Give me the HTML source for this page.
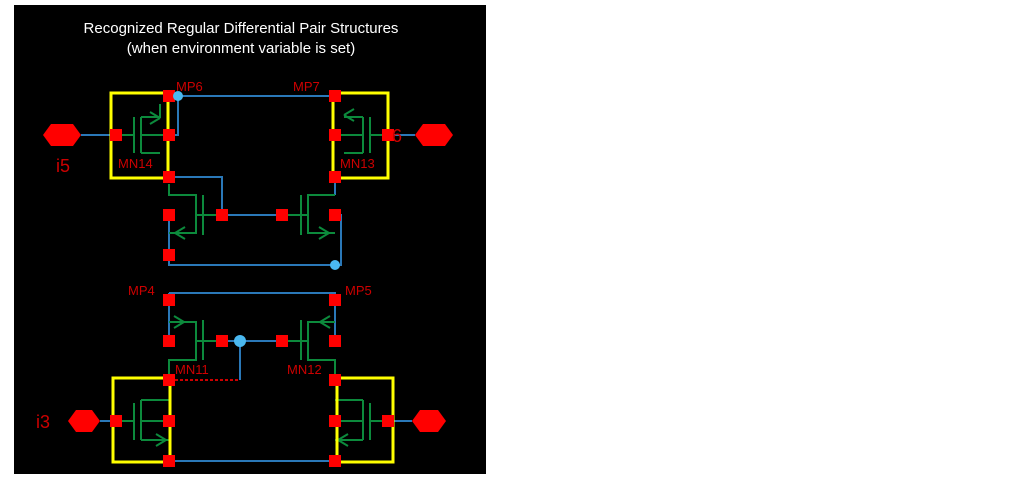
<!DOCTYPE html>
<html><head><style>
body{margin:0;background:#fff;width:1013px;height:479px;overflow:hidden}
svg{position:absolute;left:0;top:0}
text{font-family:"Liberation Sans",sans-serif}
</style></head><body>
<svg width="1013" height="479" viewBox="0 0 1013 479">
<rect x="14" y="5" width="472" height="469" fill="#000"/>
<text x="241" y="33" fill="#fff" font-size="15" text-anchor="middle">Recognized Regular Differential Pair Structures</text>
<text x="241" y="53" fill="#fff" font-size="15" text-anchor="middle">(when environment variable is set)</text>
<g stroke="#2a78b8" stroke-width="2" fill="none">
<path d="M81 135H111M178 96H335M178 96V135H169M169 177H222V215M169 215V265H341V215H335M222 215H282M335 177V195"/>
<path d="M389 135H415"/>
<path d="M169 293H335V341M169 293V341M222 341H282M240 341V380"/>
<path d="M100 421H116M388 421H412M169 461H335"/>
</g>
<path d="M175 380H240" stroke="#c00" stroke-width="2" stroke-dasharray="3,2"/>
<g stroke="#0c8a3c" stroke-width="2" fill="none">
<path d="M116 135H134M134 117V153M141 117V153M141 135H169M141 117H160V104M141 153H160M160 118l-10 -6M160 118l-10 6"/>
<path d="M388 135H370M370 117V153M363 117V153M363 135H335M363 117H344M363 153H344M344 115l10 -6M344 115l10 6"/>
<path d="M169 184V195H196V233H169M203 195V235M196 215H222M175 233l10-6M175 233l10 6"/>
<path d="M335 195H308V233H335M301 195V235M308 215H282M329 233l-10-6M329 233l-10 6"/>
<path d="M169 322H196V360H169V375M203 320V360M196 341H222M184 322l-10-6M184 322l-10 6"/>
<path d="M335 322H308V360H335V375M301 320V360M308 341H282M320 322l10-6M320 322l10 6"/>
<path d="M116 421H134M134 403V440M141 400V440M141 421H169M141 400H169M141 440H169M166 440l-10-6M166 440l-10 6"/>
<path d="M388 421H370M370 403V440M363 400V440M363 421H335M363 400H335M363 440H335M338 440l10-6M338 440l10 6"/>
</g>
<g fill="none" stroke="#ff0" stroke-width="3">
<rect x="111" y="93" width="57" height="85"/>
<rect x="333" y="93" width="55" height="85"/>
<rect x="113" y="378" width="57" height="84"/>
<rect x="337" y="378" width="56" height="84"/>
</g>
<g fill="#f00">
<polygon points="43,135 51,124 73,124 81,135 73,146 51,146"/>
<polygon points="415,135 423,124 445,124 453,135 445,146 423,146"/>
<polygon points="68,421 76,410 92,410 100,421 92,432 76,432"/>
<polygon points="412,421 420,410 438,410 446,421 438,432 420,432"/>
</g>
<g fill="#f00">
<rect x="163" y="90" width="12" height="12"/><rect x="329" y="90" width="12" height="12"/>
<rect x="110" y="129" width="12" height="12"/><rect x="163" y="129" width="12" height="12"/>
<rect x="329" y="129" width="12" height="12"/><rect x="382" y="129" width="12" height="12"/>
<rect x="163" y="171" width="12" height="12"/><rect x="329" y="171" width="12" height="12"/>
<rect x="163" y="209" width="12" height="12"/><rect x="216" y="209" width="12" height="12"/>
<rect x="276" y="209" width="12" height="12"/><rect x="329" y="209" width="12" height="12"/>
<rect x="163" y="249" width="12" height="12"/>
<rect x="163" y="294" width="12" height="12"/><rect x="329" y="294" width="12" height="12"/>
<rect x="163" y="335" width="12" height="12"/><rect x="216" y="335" width="12" height="12"/>
<rect x="276" y="335" width="12" height="12"/><rect x="329" y="335" width="12" height="12"/>
<rect x="163" y="374" width="12" height="12"/><rect x="329" y="374" width="12" height="12"/>
<rect x="110" y="415" width="12" height="12"/><rect x="163" y="415" width="12" height="12"/>
<rect x="329" y="415" width="12" height="12"/><rect x="382" y="415" width="12" height="12"/>
<rect x="163" y="455" width="12" height="12"/><rect x="329" y="455" width="12" height="12"/>
</g>
<g fill="#4ab8f0"><circle cx="178" cy="96" r="5"/><circle cx="335" cy="265" r="5"/><circle cx="240" cy="341" r="6"/></g>
<g fill="#c00" font-size="13">
<text x="176" y="91">MP6</text><text x="293" y="91">MP7</text>
<text x="118" y="168">MN14</text><text x="340" y="168">MN13</text>
<text x="128" y="295">MP4</text><text x="345" y="295">MP5</text>
<text x="175" y="374">MN11</text><text x="287" y="374">MN12</text>
<text x="56" y="172" font-size="18">i5</text><text x="392" y="142" font-size="18">6</text>
<text x="36" y="428" font-size="18">i3</text>
</g>
</svg>
</body></html>
